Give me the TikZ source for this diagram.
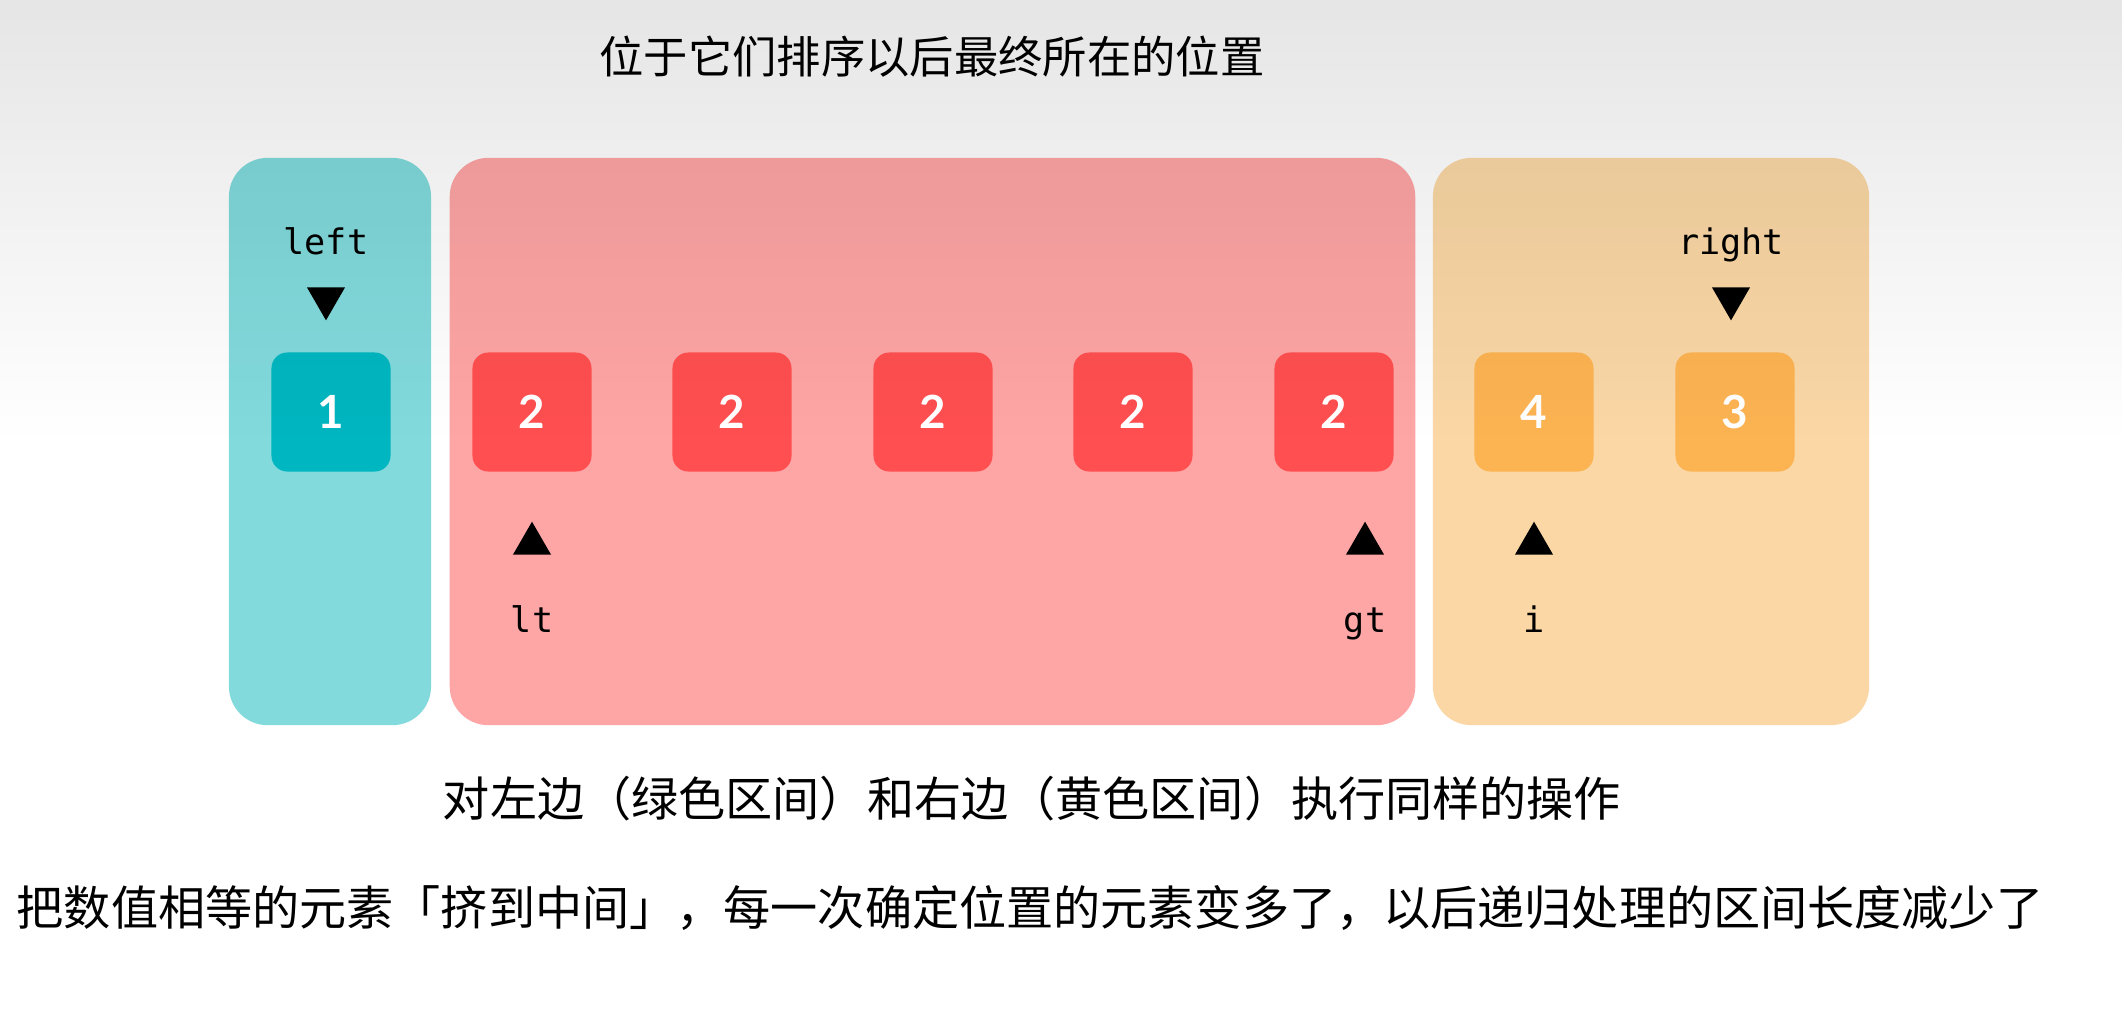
\documentclass[tikz,border=0pt]{standalone}
\usepackage{fontspec}
\setmainfont{Noto Sans CJK SC}
\setmonofont{DejaVu Sans Mono}
\newfontfamily\digitfont{Lato}
\usetikzlibrary{shapes.geometric, positioning, fadings}

\definecolor{tealzone}{HTML}{82DADC}
\definecolor{tealcell}{HTML}{00B6C0}
\definecolor{redzone}{HTML}{FEA5A5}
\definecolor{redcell}{HTML}{FF4F50}
\definecolor{orangezone}{HTML}{FAD7A5}
\definecolor{orangecell}{HTML}{FCB352}

\tikzfading[name=topshade, top color=transparent!0, bottom color=transparent!100]

\begin{document}
\begin{tikzpicture}[
    x=0.01cm, y=-0.01cm,
    zone/.style={rectangle, rounded corners=11pt, minimum height=5.67cm, inner sep=0pt},
    cell/.style={rectangle, rounded corners=4.5pt, minimum size=1.19cm, inner sep=0pt, text=white, font=\digitfont\bfseries\fontsize{13pt}{15pt}\selectfont},
    pdown/.style={regular polygon, regular polygon sides=3, shape border rotate=180, fill=black, inner sep=0pt, minimum size=0.44cm},
    pup/.style={regular polygon, regular polygon sides=3, fill=black, inner sep=0pt, minimum size=0.44cm},
    ptr/.style={inner sep=0pt, text height=7.5pt, text depth=2.4pt, font=\ttfamily\fontsize{10pt}{12pt}\selectfont},
    caption/.style={inner sep=0pt, font=\fontsize{13.4pt}{16pt}\selectfont}
]
\useasboundingbox (0,0) rectangle (2124,1008);
\fill[white] (0,0) rectangle (2124,1008);

% Zones
\node[zone, fill=tealzone, minimum width=2.02cm] (zleft) at (330,441.5) {};
\node[zone, fill=redzone, minimum width=9.65cm] (zmid) at (932.5,441.5) {};
\node[zone, fill=orangezone, minimum width=4.36cm] (zright) at (1651,441.5) {};

% Cells
\node[cell, fill=tealcell] (c1) at (331,412) {1};
\node[cell, fill=redcell] (c2) at (532,412) {2};
\node[cell, fill=redcell] (c3) at (732,412) {2};
\node[cell, fill=redcell] (c4) at (933,412) {2};
\node[cell, fill=redcell] (c5) at (1133,412) {2};
\node[cell, fill=redcell] (c6) at (1334,412) {2};
\node[cell, fill=orangecell] (c7) at (1534,412) {4};
\node[cell, fill=orangecell] (c8) at (1735,412) {3};

% top shade of the slide
\fill[black, fill opacity=0.125, path fading=topshade] (0,-110) rectangle (2124,440);

% Pointers
\node[pdown, above=0.3cm of c1, xshift=-0.05cm] (pleft) {};
\node[pdown, above=0.3cm of c8, xshift=-0.04cm] (pright) {};
\node[pup, below=0.48cm of c2] (plt) {};
\node[pup, below=0.48cm of c6, xshift=0.31cm] (pgt) {};
\node[pup, below=0.48cm of c7] (pi) {};

\node[ptr, above=0.23cm of pleft] (lleft) {left};
\node[ptr, above=0.23cm of pright] (lright) {right};
\node[ptr, below=0.5cm of plt] (llt) {lt};
\node[ptr, below=0.5cm of pgt] (lgt) {gt};
\node[ptr, below=0.5cm of pi] (li) {i};

% Captions
\node[caption, font=\fontsize{12.6pt}{15pt}\selectfont] (title) at (932,57) {位于它们排序以后最终所在的位置};
\node[caption] (note1) at (1032,799) {对左边（绿色区间）和右边（黄色区间）执行同样的操作};
\node[caption] (note2) at (1030,908) {把数值相等的元素「挤到中间」，每一次确定位置的元素变多了，以后递归处理的区间长度减少了};

\end{tikzpicture}
\end{document}
